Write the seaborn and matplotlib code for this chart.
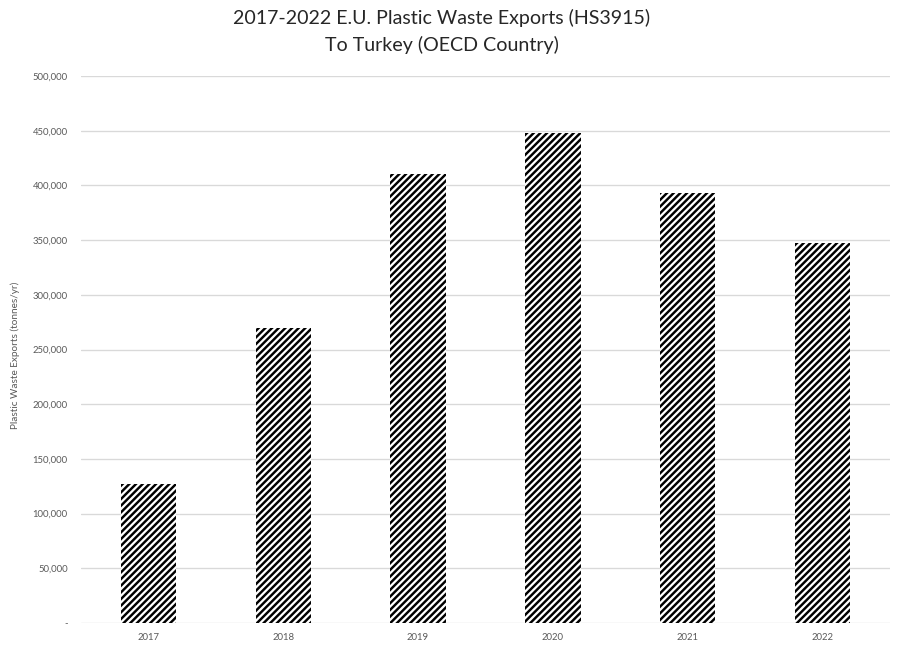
import matplotlib
matplotlib.use("Agg")
import matplotlib.pyplot as plt
import matplotlib.ticker as mticker
import seaborn as sns
import pandas as pd

years = ["2017", "2018", "2019", "2020", "2021", "2022"]
exports = [127100, 269700, 410400, 447900, 393000, 347300]
y_ticks = [0, 50000, 100000, 150000, 200000, 250000, 300000, 350000, 400000, 450000, 500000]

df = pd.DataFrame({"year": years, "exports": exports})

sns.set_theme(style="white")
plt.rcParams["font.family"] = ["Lato", "DejaVu Sans"]
plt.rcParams["hatch.linewidth"] = 2.2

DPI = 80
fig = plt.figure(figsize=(899 / DPI, 646 / DPI), dpi=DPI)
ax = fig.add_axes([81 / 899, 1 - 623 / 646, (890 - 81) / 899, (623 - 76) / 646])

sns.barplot(data=df, x="year", y="exports", ax=ax, color="white",
            edgecolor="black", linewidth=0, width=0.41, hatch="////",
            saturation=1, zorder=3)

ax.set_ylim(0, 500000)
ax.set_xlim(-0.5, len(years) - 0.5)
ax.set_yticks(y_ticks)
ax.yaxis.set_major_formatter(
    mticker.FuncFormatter(lambda v, _: "-" if v == 0 else f"{int(v):,}"))
ax.grid(axis="y", color="#d9d9d9", linewidth=1.2, zorder=0)
ax.set_axisbelow(True)
for s in ax.spines.values():
    s.set_visible(False)

ax.tick_params(axis="y", length=0, pad=12, labelsize=8.5, labelcolor="#595959")
ax.tick_params(axis="x", length=0, pad=9, labelsize=8.5, labelcolor="#595959")
ax.set_xlabel("")
ax.set_ylabel("Plastic Waste Exports (tonnes/yr)", fontsize=9,
              color="#595959")
ax.yaxis.set_label_coords(-0.076, 0.49)

fig.text(442 / 899, 1 - 18 / 646,
         "2017-2022 E.U. Plastic Waste Exports (HS3915)",
         ha="center", va="center", fontsize=17.7, color="#262626")
fig.text(442 / 899, 1 - 45 / 646, "To Turkey (OECD Country)",
         ha="center", va="center", fontsize=17.7, color="#262626")

fig.savefig("out.png", dpi=DPI)
